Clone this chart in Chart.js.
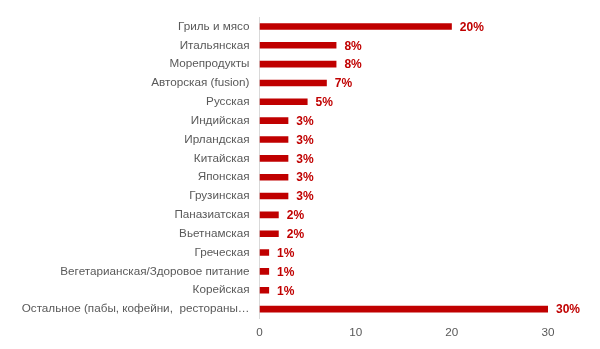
<!DOCTYPE html>
<html>
<head>
<meta charset="utf-8">
<script src="https://cdn.jsdelivr.net/npm/chart.js@4/dist/chart.umd.min.js"></script>
<style>
html,body{margin:0;padding:0;background:#fff;}
#wrap{width:600px;height:349px;position:relative;}
</style>
</head>
<body>
<div id="wrap"><canvas id="c" width="600" height="349"></canvas></div>
<script>
const categories = [
  "Гриль и мясо",
  "Итальянская",
  "Морепродукты",
  "Авторская (fusion)",
  "Русская",
  "Индийская",
  "Ирландская",
  "Китайская",
  "Японская",
  "Грузинская",
  "Паназиатская",
  "Вьетнамская",
  "Греческая",
  "Вегетарианская/Здоровое питание",
  "Корейская",
  "Остальное (пабы, кофейни,  рестораны…"
];
const shares = [20, 8, 8, 7, 5, 3, 3, 3, 3, 3, 2, 2, 1, 1, 1, 30];
const xTicks = [0, 10, 20, 30];

const labelPlugin = {
  id: 'valueLabels',
  afterDatasetsDraw(chart) {
    const ctx = chart.ctx;
    const meta = chart.getDatasetMeta(0);
    ctx.save();
    ctx.font = 'bold 12px "Liberation Sans", Arial, sans-serif';
    ctx.fillStyle = '#C00000';
    ctx.textAlign = 'left';
    ctx.textBaseline = 'middle';
    meta.data.forEach((bar, i) => {
      ctx.fillText(shares[i] + '%', bar.x + 8, bar.y + 1);
    });
    ctx.restore();
  }
};

new Chart(document.getElementById('c'), {
  type: 'bar',
  data: {
    labels: categories,
    datasets: [{
      data: shares,
      backgroundColor: '#C00000',
      categoryPercentage: 1,
      barPercentage: 0.35
    }]
  },
  options: {
    indexAxis: 'y',
    responsive: false,
    animation: false,
    devicePixelRatio: 1,
    layout: { padding: { top: 17, right: 52, left: 0, bottom: 0 } },
    plugins: { legend: { display: false }, tooltip: { enabled: false } },
    scales: {
      x: {
        min: 0, max: 30,
        afterBuildTicks(axis) { axis.ticks = xTicks.map(v => ({ value: v })); },
        grid: { display: false, drawTicks: false },
        border: { display: false },
        ticks: { color: '#595959', font: { size: 11.7, family: '"Liberation Sans", Arial, sans-serif' }, padding: 7 },
        afterFit(axis) { axis.height = 30.5; }
      },
      y: {
        grid: { display: false, drawTicks: false },
        border: { display: true, color: '#D9D9D9', width: 1 },
        ticks: { color: '#595959', font: { size: 11.7, family: '"Liberation Sans", Arial, sans-serif' }, padding: 10, autoSkip: false },
        afterFit(axis) { axis.width = 259.5; }
      }
    }
  },
  plugins: [labelPlugin]
});
</script>
</body>
</html>
